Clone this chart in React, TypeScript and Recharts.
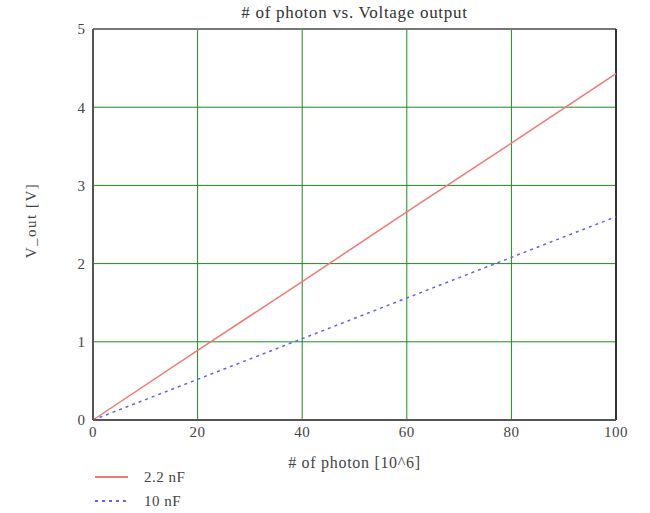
import React from 'react';
import {
  LineChart,
  Line,
  XAxis,
  YAxis,
  CartesianGrid,
  ReferenceLine,
  Legend,
  Label
} from 'recharts';

// photon count [10^6] vs output voltage
const photons = [0, 20, 40, 60, 80, 100];
const vOut22nF = [0, 0.89, 1.77, 2.66, 3.54, 4.43];
const vOut10nF = [0, 0.52, 1.04, 1.56, 2.08, 2.6];
const xTicks = [0, 20, 40, 60, 80, 100];
const yTicks = [0, 1, 2, 3, 4, 5];

const seriesNames = ['2.2 nF', '10 nF'];

const chartData = photons.map((p, i) => ({
  photon: p,
  c22: vOut22nF[i],
  c10: vOut10nF[i]
}));

const FONT = '"Liberation Serif", "DejaVu Serif", serif';
const RED = '#f07878';
const BLUE = '#6464d8';
const TXT = '#444';

function LegendBox() {
  return (
    <svg width={200} height={42} style={{ display: 'block', overflow: 'visible' }}>
      <line x1={2} y1={6} x2={35} y2={6} stroke={RED} strokeWidth={2} />
      <text x={51} y={11} fontSize={15} fontFamily={FONT} fill={TXT} letterSpacing={0.5}>{seriesNames[0]}</text>
      <line x1={2} y1={30} x2={35} y2={30} stroke={BLUE} strokeWidth={2} strokeDasharray="3 4" />
      <text x={51} y={35} fontSize={15} fontFamily={FONT} fill={TXT} letterSpacing={0.5}>{seriesNames[1]}</text>
    </svg>
  );
}

export default function App() {
  return (
    <div style={{ position: 'absolute', left: 0, top: 0, width: 650, height: 513, background: '#fff' }}>
      <div
        style={{
          position: 'absolute',
          left: 93,
          width: 523,
          top: 3,
          textAlign: 'center',
          fontFamily: FONT,
          fontSize: 17,
          letterSpacing: 0.7,
          lineHeight: '20px',
          color: '#333'
        }}
      >
        # of photon vs. Voltage output
      </div>
      <LineChart
        width={650}
        height={513}
        data={chartData}
        margin={{ top: 29, right: 34, bottom: 33, left: 0 }}
      >
        <CartesianGrid stroke="#1f8a1f" strokeWidth={1} />
        <XAxis
          dataKey="photon"
          type="number"
          domain={[0, 100]}
          ticks={xTicks}
          height={60}
          tickLine={false}
          tickSize={4}
          stroke="#555"
          strokeWidth={2}
          tick={{ fontSize: 15, fontFamily: FONT, fill: TXT, letterSpacing: 0.5 }}
        >
          <Label
            value="# of photon [10^6]"
            position="insideBottom"
            offset={12}
            style={{ fontSize: 16, fontFamily: FONT, fill: TXT, letterSpacing: 0.7 }}
          />
        </XAxis>
        <YAxis
          type="number"
          domain={[0, 5]}
          ticks={yTicks}
          width={93}
          tickLine={false}
          tickSize={6}
          stroke="#555"
          strokeWidth={2}
          tick={{ fontSize: 15, fontFamily: FONT, fill: TXT }}
        >
          <Label
            value="V_out [V]"
            angle={-90}
            position="center"
            dx={-16}
            dy={-4}
            style={{ fontSize: 15, fontFamily: FONT, fill: TXT, letterSpacing: 1.5 }}
          />
        </YAxis>
        <ReferenceLine y={5} stroke="#777" strokeWidth={2} />
        <ReferenceLine x={100} stroke="#333" strokeWidth={2} />
        <Legend
          layout="horizontal"
          verticalAlign="middle"
          align="center"
          wrapperStyle={{ position: 'absolute', left: 93, top: 471, width: 200, height: 42 }}
          content={() => <LegendBox />}
        />
        <Line
          type="linear"
          dataKey="c22"
          name={seriesNames[0]}
          stroke={RED}
          strokeWidth={1.5}
          dot={false}
          isAnimationActive={false}
        />
        <Line
          type="linear"
          dataKey="c10"
          name={seriesNames[1]}
          stroke={BLUE}
          strokeWidth={1.5}
          strokeDasharray="3 4"
          dot={false}
          isAnimationActive={false}
        />
      </LineChart>
    </div>
  );
}
